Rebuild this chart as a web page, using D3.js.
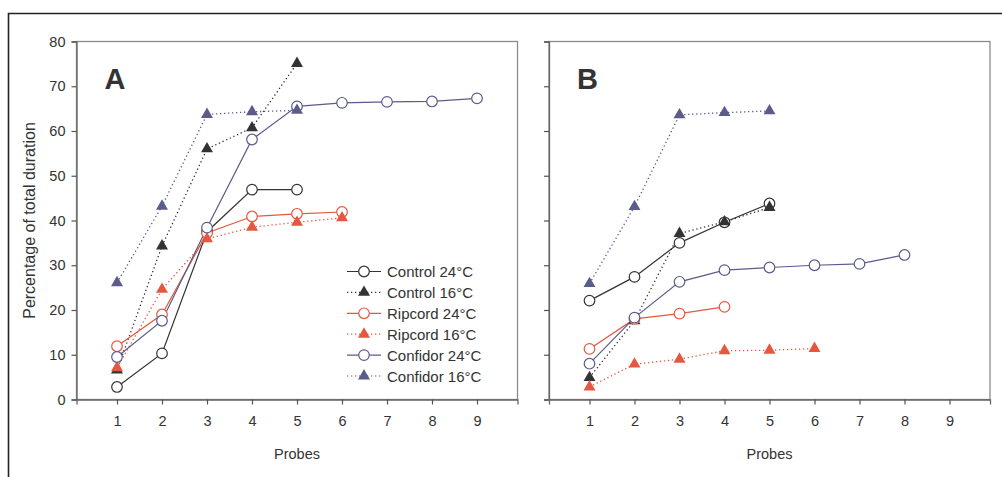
<!DOCTYPE html>
<html lang="en">
<head>
    <meta charset="utf-8">
    <title>Probes</title>
    <script src="https://d3js.org/d3.v7.min.js"></script>
    <style>
        body { margin: 0; background: #fff; }
        text { font-family: "Liberation Sans", Arial, sans-serif; fill: #333; }
    </style>
</head>
<body>
<script type="text/javascript">
    var w = 1002;
    var h = 477;

    var probes = [1, 2, 3, 4, 5, 6, 7, 8, 9];
    var yTicks = [0, 10, 20, 30, 40, 50, 60, 70, 80];

    var seriesNames = ["Control 24°C", "Control 16°C", "Ripcord 24°C", "Ripcord 16°C", "Confidor 24°C", "Confidor 16°C"];
    var seriesColors = ["#333333", "#333333", "#e5573f", "#e5573f", "#5b5b8c", "#5b5b8c"];
    var seriesShape = ["circle", "triangle", "circle", "triangle", "circle", "triangle"];

    // panel A
    var controlA24 = [2.8, 10.3, 37.5, 46.9, 46.9];
    var controlA16 = [6.6, 34.3, 56.0, 60.7, 75.1];
    var ripcordA24 = [11.9, 19.0, 37.2, 40.9, 41.5, 41.9];
    var ripcordA16 = [7.1, 24.6, 35.9, 38.5, 39.6, 40.6];
    var confidorA24 = [9.5, 17.6, 38.4, 58.1, 65.5, 66.3, 66.5, 66.6, 67.3];
    var confidorA16 = [26.1, 43.2, 63.7, 64.3, 64.6];

    // panel B
    var controlB24 = [22.1, 27.4, 35.0, 39.6, 43.8];
    var controlB16 = [4.9, 17.6, 37.1, 39.7, 42.9];
    var ripcordB24 = [11.3, 18.0, 19.2, 20.7];
    var ripcordB16 = [2.8, 7.9, 9.0, 10.9, 11.0, 11.4];
    var confidorB24 = [8.0, 18.3, 26.3, 28.9, 29.5, 30.0, 30.3, 32.3];
    var confidorB16 = [25.9, 43.1, 63.6, 64.1, 64.5];

    var panelA = [controlA24, controlA16, ripcordA24, ripcordA16, confidorA24, confidorA16];
    var panelB = [controlB24, controlB16, ripcordB24, ripcordB16, confidorB24, confidorB16];

    var svg = d3.select("body").append("svg").attr("width", w).attr("height", h);

    // outer frame (top and left only)
    svg.append("path").attr("d", "M8.5," + h + "V13.5H" + w)
        .attr("fill", "none").attr("stroke", "#222").attr("stroke-width", 1.6);

    var tri = d3.symbol().type(d3.symbolTriangle).size(62);

    function marker(g, shape, color, x, y) {
        if (shape == "circle") {
            g.append("circle").attr("cx", x).attr("cy", y).attr("r", 5.3)
                .attr("fill", "#fff").attr("stroke", color).attr("stroke-width", 1.2);
        } else {
            g.append("path").attr("d", tri).attr("transform", "translate(" + x + "," + y + ")")
                .attr("fill", color);
        }
    }

    function drawPanel(left, right, data, letter, withLabels, withLegend) {
        var top = 41.5, bottom = 399.5;
        var x = d3.scaleLinear().domain([0.1, 9.9]).range([left, right]);
        var y = d3.scaleLinear().domain([0, 80]).range([bottom, top]);
        var g = svg.append("g");

        // box
        g.append("rect").attr("x", left).attr("y", top)
            .attr("width", right - left).attr("height", bottom - top)
            .attr("fill", "none").attr("stroke", "#8a8a8a").attr("stroke-width", 1.3);

        var yAxis = d3.axisLeft(y).tickValues(yTicks).tickSize(5).tickPadding(6)
            .tickFormat(withLabels ? d3.format("d") : "");
        var xAxis = d3.axisBottom(x).tickValues(probes).tickSize(5).tickPadding(11);

        var ya = g.append("g").attr("transform", "translate(" + left + ",0)").call(yAxis);
        var xa = g.append("g").attr("transform", "translate(0," + bottom + ")").call(xAxis);
        [ya, xa].forEach(function (a) {
            a.select(".domain").attr("stroke", "#666").attr("stroke-width", 1.3);
            a.selectAll(".tick line").attr("stroke", "#555").attr("stroke-width", 1.2);
            a.selectAll(".tick text").attr("font-size", 14.5).attr("fill", "#333")
                .attr("font-family", "Liberation Sans, Arial, sans-serif");
        });

        g.append("text").attr("x", (left + right) / 2).attr("y", 459)
            .attr("text-anchor", "middle").attr("font-size", 14.5).text("Probes");

        if (withLabels) {
            g.append("text").attr("transform", "translate(35," + ((top + bottom) / 2) + ") rotate(-90)")
                .attr("text-anchor", "middle").attr("font-size", 16).text("Percentage of total duration");
        }

        g.append("text").attr("x", left + 28).attr("y", 89)
            .attr("font-size", 29).attr("font-weight", "bold").text(letter);

        var line = d3.line().x(function (d, i) { return x(i + 1); }).y(function (d) { return y(d); });

        // lines first, markers on top
        data.forEach(function (vals, k) {
            g.append("path").datum(vals).attr("d", line)
                .attr("fill", "none").attr("stroke", seriesColors[k])
                .attr("stroke-width", seriesShape[k] == "circle" ? 1.2 : 1.3)
                .attr("stroke-dasharray", seriesShape[k] == "circle" ? null : "1.3,2.7");
        });
        data.forEach(function (vals, k) {
            vals.forEach(function (v, i) {
                marker(g, seriesShape[k], seriesColors[k], x(i + 1), y(v));
            });
        });

        if (withLegend) {
            var lg = svg.append("g");
            seriesNames.forEach(function (name, k) {
                var ly = 271.5 + k * 20.9;
                lg.append("line").attr("x1", 347).attr("x2", 381).attr("y1", ly).attr("y2", ly)
                    .attr("stroke", seriesColors[k]).attr("stroke-width", 1.2)
                    .attr("stroke-dasharray", seriesShape[k] == "circle" ? null : "1.3,2.7");
                marker(lg, seriesShape[k], seriesColors[k], 364, ly);
                lg.append("text").attr("x", 387).attr("y", ly + 5.5)
                    .attr("font-size", 15).text(name);
            });
        }
    }

    drawPanel(76.5, 517.5, panelA, "A", true, true);
    drawPanel(549, 990, panelB, "B", false, false);
</script>
</body>
</html>
